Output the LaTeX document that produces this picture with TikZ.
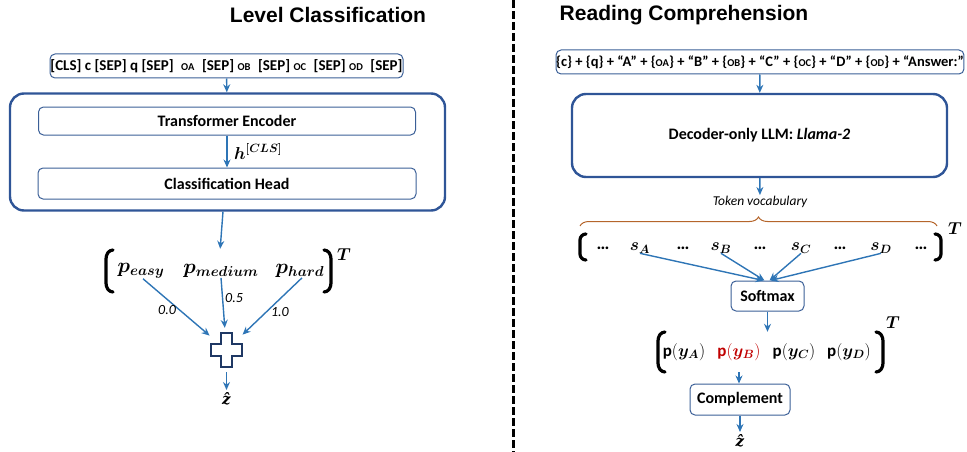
\documentclass[tikz,border=0pt]{standalone}
\usepackage{amsmath}
\usepackage{bm}
\usepackage{fontspec}
\setmainfont{Carlito}
\newfontfamily\headfont{Liberation Sans}
\newfontfamily\zfont{DejaVu Serif}
\usetikzlibrary{arrows.meta,decorations.pathreplacing}

\definecolor{arrblue}{HTML}{2E75B6}
\definecolor{boxline}{HTML}{3B5F97}
\definecolor{bigline}{HTML}{2F5597}
\definecolor{plusline}{HTML}{1F3864}
\definecolor{probred}{HTML}{C00000}
\definecolor{bracebrown}{HTML}{B5652B}

\newcommand{\opt}[1]{{\fontsize{10.5}{10.5}\selectfont O#1}}

\begin{document}
\begin{tikzpicture}[x=1pt,y=-1pt,font=\fontsize{16}{19}\selectfont,
box/.style={draw=boxline,line width=1pt,rounded corners=5pt,inner sep=0pt,font=\bfseries\fontsize{16}{19}\selectfont},
bigbox/.style={draw=bigline,line width=2.4pt,rounded corners=14pt,inner sep=0pt},
arr/.style={draw=arrblue,line width=1.4pt,-{Stealth[length=8pt,width=7pt]}},
wt/.style={font=\fontsize{14}{14}\selectfont\itshape,inner sep=1pt},
paren/.style={line width=3.2pt,line cap=round},
vec/.style={inner sep=0pt},
zhat/.style={inner sep=2.5pt,font=\zfont\bfseries\itshape\fontsize{15}{15}\selectfont},
title/.style={font=\headfont\bfseries\fontsize{21}{21}\selectfont}]
\useasboundingbox (0,0) rectangle (967,452);

\node[title] (titL) at (328,15) {Level Classification};
\node[title] (titR) at (684,15) {Reading Comprehension};
\draw[line width=3pt,dash pattern=on 8pt off 3pt] (513,0) -- (513,452);

\node[box,minimum width=353,minimum height=24,font=\bfseries\fontsize{15}{15}\selectfont] (inL) at (226.5,66)
   {[CLS] c [SEP] q [SEP]\enspace \opt{A}\enspace [SEP] \opt{B}\enspace [SEP] \opt{C}\enspace [SEP] \opt{D}\enspace [SEP]};
\node[bigbox,minimum width=435,minimum height=117] (encL) at (227.5,152) {};
\node[box,minimum width=377,minimum height=28] (trans) at (227,121) {Transformer Encoder};
\node[box,minimum width=378,minimum height=31] (head) at (227,183.5) {Classification Head};
\draw[arr] (inL) -- (encL);
\draw[arr] (trans) -- node[right=3pt,font=\fontsize{17}{17}\selectfont]{$\bm{h}^{\bm{[CLS]}}$} (head);

\node[vec,minimum width=225,minimum height=44] (vecL) at (218.5,271) {};
\draw[arr] (encL) -- (vecL);
\node[vec,font=\fontsize{21}{21}\selectfont] (peasy) at (141,271) {$\bm{p}_{\bm{easy}}$};
\node[vec,font=\fontsize{21}{21}\selectfont] (pmed) at (221,271) {$\bm{p}_{\bm{medium}}$};
\node[vec,font=\fontsize{21}{21}\selectfont] (phard) at (300,271) {$\bm{p}_{\bm{hard}}$};
\draw[paren] (113,250) to[out=180,in=90] (106,259) -- (106,283) to[out=-90,in=180] (113,292);
\draw[paren] (324,250) to[out=0,in=90] (331,259) -- (331,283) to[out=-90,in=0] (324,292);
\node[vec,font=\fontsize{18}{18}\selectfont] (tL) at (344,255) {$\bm{T}$};

\node[circle,inner sep=0pt,minimum size=44] (plus) at (226.5,350) {};
\draw[plusline,line width=1.6pt,fill=white] (plus.center)
   ++(-5.75,-17) -- ++(11.5,0) -- ++(0,11.25) -- ++(10,0) -- ++(0,11.5) -- ++(-10,0) -- ++(0,11.25)
   -- ++(-11.5,0) -- ++(0,-11.25) -- ++(-10,0) -- ++(0,-11.5) -- ++(10,0) -- cycle;
\draw[arr] ([xshift=2pt]peasy.south) -- node[wt,pos=0.55,left=2pt]{0.0} (plus);
\draw[arr] (pmed.south) -- node[wt,pos=0.4,right=1pt]{0.5} (plus);
\draw[arr] ([xshift=2pt]phard.south) -- node[wt,pos=0.6,right=3pt]{1.0} (plus);
\node[zhat] (zL) at (226.5,399) {ẑ};
\draw[arr] (plus) -- (zL);

\node[box,minimum width=406,minimum height=24,font=\bfseries\fontsize{14.5}{15}\selectfont] (inR) at (760,62)
   {\{c\} + \{q\} + “A” + \{\opt{A}\} + “B” + \{\opt{B}\} + “C” + \{\opt{C}\} + “D” + \{\opt{D}\} + “Answer:”};
\node[bigbox,minimum width=375,minimum height=83,font=\bfseries\fontsize{16}{19}\selectfont] (llm) at (759.5,135.5)
   {Decoder-only LLM: \textit{Llama-2}};
\draw[arr] (inR) -- (llm);
\node[inner sep=1pt,font=\fontsize{13.5}{14}\selectfont\itshape] (tok) at (760,202) {Token vocabulary};
\draw[arr] (llm) -- (tok);
\draw[bracebrown,line width=1pt,decorate,decoration={brace,amplitude=9pt}] (580,226) -- (937,226);

\foreach \x/\n/\t in {603/d1/\textbf{…},640/sA/$\bm{s}_{\bm{A}}$,683/d2/\textbf{…},721/sB/$\bm{s}_{\bm{B}}$,760/d3/\textbf{…},
   801/sC/$\bm{s}_{\bm{C}}$,840/d4/\textbf{…},881/sD/$\bm{s}_{\bm{D}}$,921/d5/\textbf{…}}
   \node[vec,font=\fontsize{18}{18}\selectfont] (\n) at (\x,248) {\t};
\draw[paren] (586,234) to[out=180,in=90] (580,240) -- (580,254) to[out=-90,in=180] (586,260);
\draw[paren] (935,234) to[out=0,in=90] (941,240) -- (941,254) to[out=-90,in=0] (935,260);
\node[vec,font=\fontsize{18}{18}\selectfont] (tR) at (955,229) {$\bm{T}$};

\node[box,minimum width=73,minimum height=30] (soft) at (767.5,296) {Softmax};
\draw[arr] (sA.south) -- ([xshift=-4pt]soft.north);
\draw[arr] (sB.south) -- ([xshift=-3pt]soft.north);
\draw[arr] (sC.south) -- ([xshift=2pt]soft.north);
\draw[arr] (sD.south) -- ([xshift=3pt]soft.north);

\node[vec,minimum width=225,minimum height=40] (vecR) at (770,352) {};
\draw[arr] (soft) -- (soft |- vecR.north);
\node[vec,font=\fontsize{17}{19}\selectfont] (pA) at (684,352) {\textbf{p}$(\bm{y}_{\bm{A}})$};
\node[vec,text=probred,font=\fontsize{17}{19}\selectfont] (pB) at (739,352) {\textbf{p}$(\bm{y}_{\bm{B}})$};
\node[vec,font=\fontsize{17}{19}\selectfont] (pC) at (794,352) {\textbf{p}$(\bm{y}_{\bm{C}})$};
\node[vec,font=\fontsize{17}{19}\selectfont] (pD) at (849,352) {\textbf{p}$(\bm{y}_{\bm{D}})$};
\draw[paren] (665,332) to[out=180,in=90] (658,341) -- (658,363) to[out=-90,in=180] (665,372);
\draw[paren] (876,332) to[out=0,in=90] (883,341) -- (883,363) to[out=-90,in=0] (876,372);
\node[vec,font=\fontsize{18}{18}\selectfont] (tP) at (893,323) {$\bm{T}$};

\node[box,minimum width=100,minimum height=31] (comp) at (740,399.5) {Complement};
\draw[arr] (pB.south |- vecR.south) -- (pB.south |- comp.north);
\node[zhat] (zR) at (740,441) {ẑ};
\draw[arr] (comp) -- (zR);
\end{tikzpicture}
\end{document}
